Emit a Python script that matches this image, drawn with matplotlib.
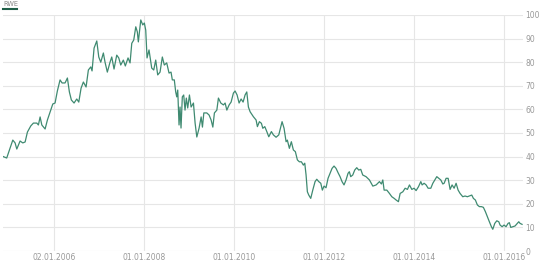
import matplotlib
matplotlib.use("Agg")
import matplotlib.pyplot as plt
import matplotlib.dates as mdates
import pandas as pd

years = [
    2004.873, 2004.949, 2005.022, 2005.082, 2005.133, 2005.171, 2005.244, 2005.304, 2005.356, 2005.407,
    2005.482, 2005.540, 2005.616, 2005.651, 2005.689, 2005.727, 2005.800, 2005.851, 2005.911, 2005.971,
    2006.022, 2006.073, 2006.133, 2006.178, 2006.244, 2006.296, 2006.340, 2006.384, 2006.444, 2006.504,
    2006.549, 2006.600, 2006.651, 2006.711, 2006.762, 2006.816, 2006.844, 2006.889, 2006.949, 2006.993,
    2007.038, 2007.096, 2007.133, 2007.184, 2007.244, 2007.282, 2007.333, 2007.393, 2007.438, 2007.482,
    2007.540, 2007.584, 2007.644, 2007.689, 2007.727, 2007.771, 2007.816, 2007.851, 2007.873, 2007.927,
    2007.971, 2008.007, 2008.038, 2008.067, 2008.111, 2008.171, 2008.216, 2008.260, 2008.304, 2008.356,
    2008.407, 2008.451, 2008.504, 2008.556, 2008.600, 2008.629, 2008.673, 2008.704, 2008.727, 2008.749,
    2008.778, 2008.800, 2008.822, 2008.851, 2008.882, 2008.911, 2008.940, 2008.971, 2009.007, 2009.044,
    2009.096, 2009.133, 2009.171, 2009.222, 2009.267, 2009.296, 2009.327, 2009.393, 2009.444, 2009.489,
    2009.527, 2009.562, 2009.616, 2009.651, 2009.704, 2009.762, 2009.800, 2009.838, 2009.889, 2009.933,
    2009.984, 2010.022, 2010.067, 2010.111, 2010.156, 2010.200, 2010.244, 2010.282, 2010.318, 2010.356,
    2010.429, 2010.489, 2010.518, 2010.562, 2010.607, 2010.638, 2010.682, 2010.727, 2010.771, 2010.829,
    2010.873, 2010.933, 2010.993, 2011.038, 2011.067, 2011.111, 2011.156, 2011.184, 2011.229, 2011.273,
    2011.318, 2011.362, 2011.407, 2011.451, 2011.496, 2011.540, 2011.571, 2011.600, 2011.629, 2011.660,
    2011.704, 2011.749, 2011.800, 2011.838, 2011.882, 2011.927, 2011.962, 2012.000, 2012.044, 2012.089,
    2012.133, 2012.178, 2012.222, 2012.267, 2012.311, 2012.356, 2012.400, 2012.444, 2012.489, 2012.533,
    2012.562, 2012.593, 2012.638, 2012.682, 2012.727, 2012.771, 2012.816, 2012.860, 2012.933, 2013.007,
    2013.082, 2013.156, 2013.229, 2013.273, 2013.304, 2013.333, 2013.393, 2013.451, 2013.504, 2013.556,
    2013.600, 2013.651, 2013.689, 2013.749, 2013.800, 2013.851, 2013.896, 2013.949, 2014.000, 2014.044,
    2014.096, 2014.149, 2014.178, 2014.222, 2014.267, 2014.311, 2014.371, 2014.416, 2014.460, 2014.504,
    2014.549, 2014.593, 2014.638, 2014.667, 2014.711, 2014.756, 2014.800, 2014.844, 2014.889, 2014.933,
    2014.978, 2015.022, 2015.082, 2015.133, 2015.184, 2015.229, 2015.282, 2015.318, 2015.362, 2015.407,
    2015.451, 2015.496, 2015.540, 2015.584, 2015.629, 2015.673, 2015.718, 2015.749, 2015.793, 2015.838,
    2015.882, 2015.911, 2015.956, 2016.000, 2016.044, 2016.089, 2016.118, 2016.149, 2016.193, 2016.244,
    2016.282, 2016.327, 2016.356, 2016.400,
]
prices = [
    40.0, 39.4, 43.6, 47.0, 45.8, 43.2, 46.6, 45.8, 46.2, 50.4,
    53.0, 54.2, 54.2, 53.4, 56.8, 53.4, 51.7, 55.5, 58.9, 62.3,
    62.7, 67.8, 72.5, 71.2, 71.2, 73.3, 67.4, 64.0, 62.7, 64.4,
    63.1, 69.0, 71.6, 69.5, 76.7, 78.0, 76.3, 86.0, 89.0, 82.2,
    80.0, 83.9, 80.0, 75.8, 80.0, 82.2, 77.1, 83.0, 81.8, 78.8,
    80.9, 78.4, 81.8, 79.7, 88.0, 89.4, 95.0, 92.8, 88.6, 97.9,
    95.8, 96.6, 93.6, 81.8, 85.2, 77.5, 76.7, 80.9, 74.6, 75.8,
    82.2, 78.8, 79.7, 75.4, 75.8, 72.5, 72.5, 67.4, 65.3, 68.2,
    53.4, 61.0, 52.1, 65.3, 66.1, 59.7, 64.8, 60.6, 66.1, 61.0,
    62.7, 54.2, 48.3, 52.1, 56.8, 52.5, 58.5, 58.5, 57.6, 55.5,
    52.5, 58.5, 59.7, 64.8, 62.7, 61.9, 62.7, 59.7, 61.9, 63.1,
    66.9, 67.8, 66.1, 62.7, 64.4, 63.1, 66.1, 67.4, 61.0, 59.0,
    56.9, 55.5, 52.7, 54.8, 54.1, 52.0, 52.7, 50.6, 48.4, 50.6,
    49.2, 48.2, 49.2, 52.7, 54.8, 52.0, 46.3, 47.0, 43.5, 46.3,
    42.8, 42.1, 38.6, 37.8, 37.8, 36.4, 37.2, 32.2, 25.1, 23.7,
    22.3, 25.8, 29.4, 30.4, 29.4, 28.7, 25.8, 27.5, 26.8, 30.8,
    32.9, 35.0, 36.0, 35.0, 33.2, 31.5, 29.4, 28.0, 30.1, 32.9,
    33.6, 31.5, 32.2, 34.3, 35.3, 34.3, 34.6, 32.2, 31.5, 30.1,
    27.5, 28.0, 29.4, 28.4, 30.1, 25.8, 25.8, 24.4, 23.0, 22.3,
    21.6, 20.9, 24.4, 25.1, 26.6, 26.1, 28.0, 26.1, 26.6, 25.6,
    27.2, 29.4, 28.0, 28.7, 28.0, 26.6, 26.6, 28.7, 30.1, 31.5,
    30.8, 30.1, 28.4, 28.7, 30.8, 30.8, 26.1, 28.0, 26.6, 28.7,
    25.8, 24.4, 23.0, 23.3, 23.0, 23.3, 23.7, 22.3, 21.6, 19.5,
    18.8, 18.8, 18.5, 16.7, 14.5, 12.4, 10.3, 9.2, 11.7, 12.8,
    12.4, 11.0, 10.3, 11.0, 10.3, 11.7, 12.0, 10.0, 10.3, 10.6,
    11.4, 12.4, 11.7, 11.3,
]
tick_dates = ["2006-01-02", "2008-01-01", "2010-01-01", "2012-01-01", "2014-01-01", "2016-01-01"]
y_ticks = [0, 10, 20, 30, 40, 50, 60, 70, 80, 90, 100]


def to_date(y):
    start = pd.Timestamp(int(y), 1, 1)
    return start + pd.Timedelta(days=(y - int(y)) * 365.25)


dates = [to_date(y) for y in years]

fig = plt.figure(figsize=(5.4, 2.63), dpi=100)
ax = fig.add_axes([0.0056, 0.0456, 0.963, 0.8974])

ax.plot(dates, prices, color="#3f8a71", lw=0.9)

ax.set_ylim(0, 100)
ax.set_xlim(to_date(2004.867), to_date(2016.422))
ax.set_yticks(y_ticks)
ax.yaxis.tick_right()
ax.set_xticks([pd.Timestamp(d) for d in tick_dates])
ax.xaxis.set_major_formatter(mdates.DateFormatter("%d.%m.%Y"))
ax.tick_params(axis="both", length=0, labelsize=5.5, labelcolor="#999999", pad=1.5)

ax.grid(True, color="#e6e6e6", lw=0.8)
for s in ax.spines.values():
    s.set_visible(False)
ax.set_axisbelow(True)

# legend on top left
fig.text(0.006, 0.998, "RWE", fontsize=4.8, color="#888888", va="top", ha="left")
fig.add_artist(plt.Line2D([0.006, 0.032], [0.967, 0.967], color="#1f5e48", lw=1.5))

fig.savefig("out.png", dpi=100)
